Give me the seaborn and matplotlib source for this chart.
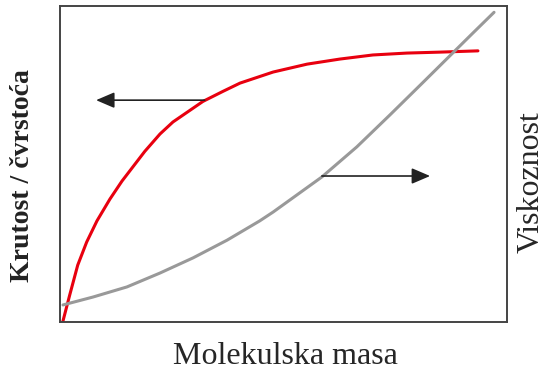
import matplotlib
matplotlib.use("Agg")
import matplotlib.pyplot as plt
import pandas as pd
import seaborn as sns

# values (arbitrary units, 0-10 on both axes)
red_x = [0.07, 0.22, 0.40, 0.60, 0.83, 1.12, 1.39, 1.90, 2.24, 2.53, 3.20, 3.65,
         4.03, 4.77, 5.53, 6.26, 7.00, 7.76, 8.50, 9.35]
red_y = [0.03, 0.85, 1.80, 2.53, 3.20, 3.89, 4.46, 5.40, 5.95, 6.33, 6.98, 7.30,
         7.56, 7.91, 8.16, 8.32, 8.45, 8.51, 8.54, 8.58]

gray_x = [0.07, 0.74, 1.50, 2.24, 2.98, 3.74, 4.47, 4.77, 5.86, 6.64, 7.38, 8.12,
          8.72, 9.22, 9.71]
gray_y = [0.54, 0.79, 1.11, 1.55, 2.03, 2.59, 3.20, 3.48, 4.59, 5.54, 6.55, 7.58,
          8.42, 9.12, 9.80]

xlabel = "Molekulska masa"
ylabel_left = "Krutost / čvrstoća"
ylabel_right = "Viskoznost"

sns.set_style("white")
plt.rcParams["font.family"] = ["Liberation Serif", "DejaVu Serif"]

fig = plt.figure(figsize=(5.44, 3.74), dpi=100)
ax = fig.add_axes([0.110, 0.139, 0.822, 0.845])

red = pd.DataFrame({"x": red_x, "y": red_y})
gray = pd.DataFrame({"x": gray_x, "y": gray_y})
sns.lineplot(data=red, x="x", y="y", ax=ax, color="#e8000f", lw=2.2, sort=False)
sns.lineplot(data=gray, x="x", y="y", ax=ax, color="#999999", lw=2.2, sort=False)

ax.set_xlim(0, 10)
ax.set_ylim(0, 10)
ax.set_xticks([])
ax.set_yticks([])
ax.set_xlabel("")
ax.set_ylabel("")
for s in ax.spines.values():
    s.set_color("#444444")
    s.set_linewidth(1.4)

# arrows pointing to the relevant axis
arrow = dict(arrowstyle="-|>,head_length=0.7,head_width=0.3", color="#222222",
             lw=1.2, mutation_scale=16, shrinkA=0, shrinkB=0)
ax.annotate("", xy=(0.81, 7.02), xytext=(3.24, 7.02), arrowprops=arrow)
ax.annotate("", xy=(8.28, 4.62), xytext=(5.86, 4.62), arrowprops=arrow)

fig.text(285 / 544, 1 - 356 / 374, xlabel, ha="center", va="center", fontsize=23)
fig.text(23 / 544, 1 - 176 / 374, ylabel_left, ha="center", va="center",
         rotation=90, fontsize=20, fontweight="bold", color="#222222")
fig.text(531 / 544, 1 - 182 / 374, ylabel_right, ha="center", va="center",
         rotation=90, fontsize=23)

fig.savefig("out.png", dpi=100)
